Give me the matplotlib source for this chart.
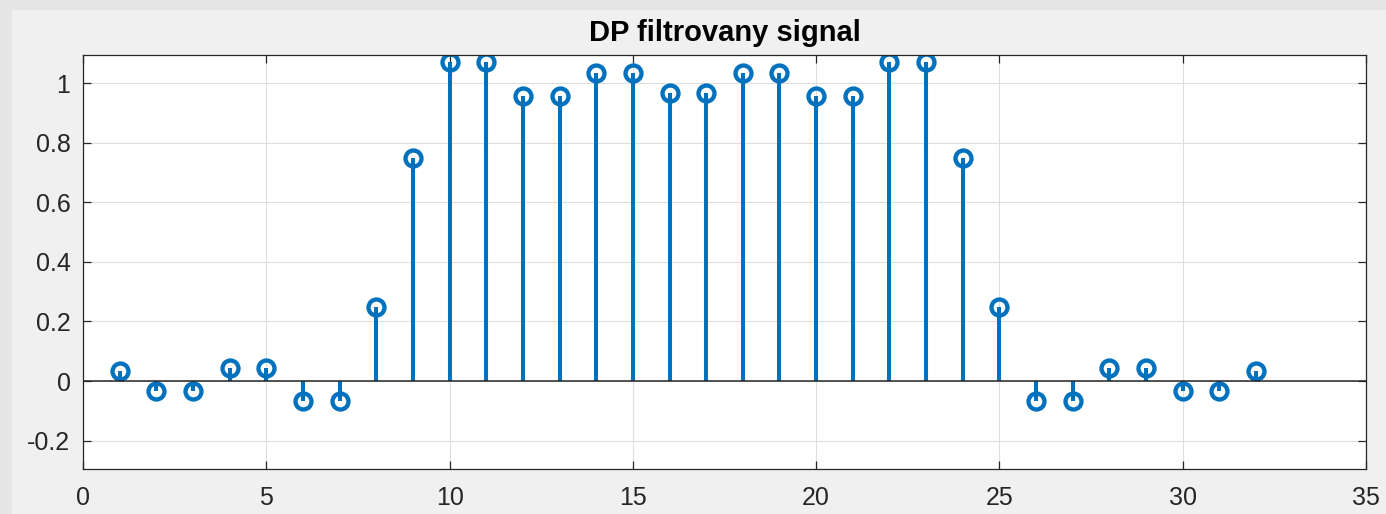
import numpy as np
import matplotlib
matplotlib.use('Agg')
import matplotlib.pyplot as plt
from matplotlib.patches import Rectangle

n = list(range(1, 33))
y = [0.033, -0.033, -0.033, 0.045, 0.045, -0.068, -0.068, 0.25,
     0.75, 1.07, 1.07, 0.956, 0.956, 1.034, 1.034, 0.966,
     0.966, 1.034, 1.034, 0.956, 0.956, 1.07, 1.07, 0.75,
     0.25, -0.068, -0.068, 0.045, 0.045, -0.033, -0.033, 0.033]
title = 'DP filtrovany signal'
xticks = [0, 5, 10, 15, 20, 25, 30, 35]
yticks = [-0.2, 0, 0.2, 0.4, 0.6, 0.8, 1]

plt.rcParams['font.family'] = ['Liberation Sans', 'DejaVu Sans']
blue = '#0072BD'
dark = '#262626'

fig = plt.figure(figsize=(13.86, 5.14), dpi=100, facecolor='#e5e5e5')
# lighter panel like the matlab window
fig.patches.append(Rectangle((12/1386, 0), 1, 1 - 10/514, transform=fig.transFigure,
                             facecolor='#f0f0f0', edgecolor='none', zorder=-10))
ax = fig.add_axes([83/1386, 45/514, (1366-83)/1386, (469-55)/514])

ml, sl, bl = ax.stem(n, y, basefmt='-')
plt.setp(sl, color=blue, linewidth=2.9)
plt.setp(ml, color=blue, markerfacecolor='none', markeredgewidth=3.1, markersize=11.5)
plt.setp(bl, color=dark, linewidth=1.1, xdata=[0, 35])

ax.set_xlim(0, 35)
ax.set_ylim(-0.295, 1.094)
ax.set_xticks(xticks)
ax.set_yticks(yticks)
ax.set_yticklabels(['-0.2', '0', '0.2', '0.4', '0.6', '0.8', '1'])
ax.grid(True, color='#dedede', linewidth=0.8)
ax.set_axisbelow(True)
ax.tick_params(direction='in', top=True, right=True, length=6, width=0.9,
               colors=dark, labelsize=18)
ax.tick_params(axis='x', pad=12)
ax.tick_params(axis='y', pad=9)
for s in ax.spines.values():
    s.set_color(dark)
    s.set_linewidth(0.9)
ax.set_title(title, fontsize=21, fontweight='bold', color='black', pad=10)

fig.savefig('out.png', dpi=100, facecolor=fig.get_facecolor())
